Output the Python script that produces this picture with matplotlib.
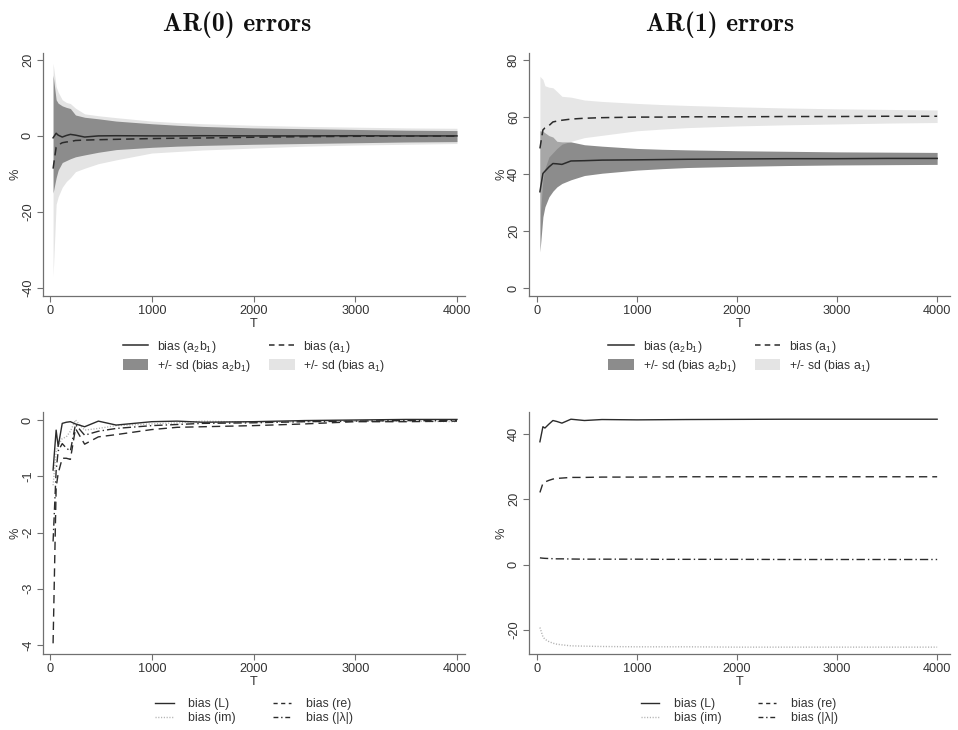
import matplotlib.pyplot as plt
from matplotlib.lines import Line2D
from matplotlib.patches import Patch

plt.rcParams['font.family'] = ['Liberation Sans', 'DejaVu Sans']
plt.rcParams['mathtext.fontset'] = 'custom'
plt.rcParams['mathtext.rm'] = 'Liberation Sans'
plt.rcParams['mathtext.it'] = 'Liberation Sans:italic'
plt.rcParams['lines.scale_dashes'] = False
plt.rcParams['axes.unicode_minus'] = False

# sample sizes
T = [30, 60, 80, 120, 160, 200, 250, 340, 475, 650, 1000, 1250, 1500, 2000, 2500, 3000, 3500, 4000]

# AR(0): bias of a2b1 and a1 with +/- one sd bands
ar0_a2b1 = [-0.5, 0.7, 0.2, -0.3, 0.1, 0.4, 0.2, -0.3, 0.0, 0.05, 0.0, 0.0, 0.05, 0.0, 0.0, 0.05, 0.0, 0.0]
ar0_a2b1_hi = [16.0, 9.5, 8.6, 7.9, 7.5, 7.2, 5.5, 4.9, 4.5, 3.9, 3.2, 2.8, 2.5, 2.1, 1.9, 1.7, 1.5, 1.4]
ar0_a2b1_lo = [-15.0, -11.0, -9.0, -7.0, -6.5, -6.0, -5.5, -5.0, -4.3, -3.6, -3.0, -2.7, -2.5, -2.2, -2.0, -1.8, -1.6, -1.5]
ar0_a1 = [-8.6, -3.0, -2.4, -1.8, -1.6, -1.5, -1.2, -1.1, -1.0, -0.9, -0.7, -0.6, -0.55, -0.35, -0.2, -0.1, -0.05, -0.05]
ar0_a1_hi = [19.1, 13.0, 11.5, 9.5, 8.8, 8.5, 7.3, 5.8, 5.3, 4.8, 3.9, 3.5, 3.2, 2.8, 2.5, 2.3, 2.1, 2.0]
ar0_a1_lo = [-37.0, -18.0, -16.0, -13.5, -12.0, -11.0, -9.4, -8.5, -7.3, -6.3, -4.5, -4.1, -3.7, -3.2, -2.7, -2.4, -2.2, -2.0]

# AR(1): same quantities
ar1_a2b1 = [33.8, 40.2, 41.0, 42.5, 43.7, 43.6, 43.4, 44.6, 44.7, 44.9, 45.0, 45.1, 45.2, 45.3, 45.4, 45.4, 45.5, 45.5]
ar1_a2b1_hi = [55.2, 55.0, 54.5, 53.5, 53.0, 51.5, 51.3, 51.3, 50.3, 49.8, 49.0, 48.7, 48.5, 48.2, 48.0, 47.8, 47.7, 47.6]
ar1_a2b1_lo = [12.7, 25.0, 28.5, 32.0, 34.0, 35.5, 36.7, 38.0, 39.5, 40.3, 41.4, 41.9, 42.3, 42.7, 43.0, 43.2, 43.3, 43.4]
ar1_a1 = [49.0, 55.5, 56.2, 57.0, 58.3, 58.6, 58.9, 59.3, 59.6, 59.8, 60.0, 60.0, 60.1, 60.1, 60.2, 60.2, 60.3, 60.3]
ar1_a1_hi = [74.3, 73.2, 71.0, 70.5, 70.3, 69.0, 67.3, 67.0, 66.0, 65.5, 64.8, 64.4, 64.1, 63.6, 63.2, 62.9, 62.7, 62.5]
ar1_a1_lo = [24.0, 38.0, 42.0, 46.0, 47.5, 49.0, 50.5, 51.5, 52.8, 53.6, 55.2, 55.8, 56.3, 56.9, 57.3, 57.6, 57.9, 58.1]

# eigenvalue biases
ar0_L = [-0.89, -0.18, -0.47, -0.06, -0.04, -0.03, -0.07, -0.12, -0.02, -0.09, -0.03, -0.02, -0.04, -0.03, -0.01, 0.0, 0.01, 0.01]
ar0_re = [-3.97, -1.2, -0.95, -0.68, -0.68, -0.7, -0.15, -0.43, -0.3, -0.26, -0.17, -0.13, -0.12, -0.1, -0.07, -0.03, -0.03, -0.02]
ar0_im = [-1.16, -0.57, -0.45, -0.33, -0.3, -0.2, 0.0, -0.18, -0.15, -0.1, -0.07, -0.05, -0.02, -0.04, -0.03, -0.02, -0.02, -0.03]
ar0_lam = [-2.16, -0.9, -0.55, -0.42, -0.5, -0.55, -0.08, -0.27, -0.2, -0.15, -0.1, -0.08, -0.06, -0.05, -0.03, -0.02, -0.01, -0.01]

ar1_L = [37.6, 42.2, 41.8, 43.0, 44.1, 43.8, 43.3, 44.5, 44.1, 44.4, 44.3, 44.35, 44.4, 44.45, 44.5, 44.5, 44.5, 44.5]
ar1_re = [22.1, 24.9, 25.3, 25.8, 26.2, 26.4, 26.5, 26.7, 26.7, 26.8, 26.8, 26.85, 26.9, 26.9, 26.9, 26.9, 26.9, 26.9]
ar1_im = [-19.2, -22.0, -22.8, -23.5, -24.0, -24.3, -24.5, -24.8, -24.9, -25.0, -25.1, -25.1, -25.1, -25.2, -25.2, -25.2, -25.2, -25.2]
ar1_lam = [2.1, 2.0, 1.95, 1.9, 1.85, 1.8, 1.8, 1.75, 1.7, 1.7, 1.7, 1.65, 1.65, 1.65, 1.6, 1.6, 1.6, 1.6]

INK = '#2b2b2b'
AXC = '#707070'
TXT = '#333333'
DARK = '#8c8c8c'
LIGHT = '#e4e4e4'
DASH = (0, (6, 3.6))
DASHDOT = (0, (6, 2.2, 1, 2.2))
DOT = (0, (0.8, 1.2))

fig = plt.figure(figsize=(9.58, 7.3), dpi=100)


def frame(rect, xlim, ylim, yticks):
    ax = fig.add_axes(rect)
    ax.spines['top'].set_visible(False)
    ax.spines['right'].set_visible(False)
    for s in ['left', 'bottom']:
        ax.spines[s].set_color(AXC)
        ax.spines[s].set_linewidth(0.9)
    ax.set_xlim(xlim)
    ax.set_ylim(ylim)
    ax.set_xticks([0, 1000, 2000, 3000, 4000])
    ax.set_yticks(yticks)
    ax.tick_params(direction='out', length=4, width=0.8, color=AXC,
                   labelsize=9.2, labelcolor=TXT, pad=2.5)
    ax.tick_params(axis='y', labelrotation=90)
    plt.setp(ax.get_yticklabels(), va='center')
    ax.set_xlabel('T', fontsize=9.2, color=TXT)
    ax.xaxis.set_label_coords(0.5, -0.092)
    ax.set_ylabel('%', fontsize=9.2, color=TXT)
    ax.yaxis.set_label_coords(-0.05, 0.5)
    return ax


def band_panel(ax, m1, lo1, hi1, m2, lo2, hi2, light_on_top):
    if light_on_top:
        ax.fill_between(T, lo1, hi1, color=DARK, lw=0, zorder=1)
        ax.fill_between(T, lo2, hi2, color='#c8c8c8', alpha=0.45, lw=0, zorder=2)
    else:
        ax.fill_between(T, lo2, hi2, color=LIGHT, lw=0, zorder=1)
        ax.fill_between(T, lo1, hi1, color=DARK, lw=0, zorder=2)
    ax.plot(T, m1, color=INK, lw=1.1, zorder=3)
    ax.plot(T, m2, color=INK, lw=1.1, linestyle=DASH, zorder=3)
    handles = [Line2D([], [], color=INK, lw=1.1),
               Patch(facecolor=DARK, edgecolor='none'),
               Line2D([], [], color=INK, lw=1.1, linestyle=(0, (4, 3))),
               Patch(facecolor=LIGHT, edgecolor='none')]
    labels = ['bias (a$_2$b$_1$)', '+/- sd (bias a$_2$b$_1$)',
              'bias (a$_1$)', '+/- sd (bias a$_1$)']
    leg = ax.legend(handles, labels, loc='center', bbox_to_anchor=(0.5, -0.248),
                    ncol=2, frameon=False, fontsize=8.8, handlelength=2.1,
                    handleheight=1.0, handletextpad=0.7, columnspacing=1.5,
                    labelspacing=0.2)
    for t in leg.get_texts():
        t.set_color(TXT)


def eig_panel(ax, L, re, im, lam):
    ax.plot(T, L, color=INK, lw=1.0, zorder=3)
    ax.plot(T, re, color=INK, lw=1.0, linestyle=DASH, zorder=3)
    ax.plot(T, im, color='#b0b0b0', lw=1.0, linestyle=DOT, zorder=2)
    ax.plot(T, lam, color=INK, lw=1.0, linestyle=DASHDOT, zorder=3)
    handles = [Line2D([], [], color=INK, lw=1.0),
               Line2D([], [], color='#b0b0b0', lw=1.0, linestyle=DOT),
               Line2D([], [], color=INK, lw=1.0, linestyle=(0, (3, 2.5))),
               Line2D([], [], color=INK, lw=1.0, linestyle=(0, (3.5, 2, 1, 2)))]
    labels = ['bias (L)', 'bias (im)', 'bias (re)', 'bias (|λ|)']
    leg = ax.legend(handles, labels, loc='center', bbox_to_anchor=(0.5, -0.235),
                    ncol=2, frameon=False, fontsize=8.8, handlelength=1.5,
                    handletextpad=1.2, columnspacing=3.0, labelspacing=0.15)
    for t in leg.get_texts():
        t.set_color(TXT)


left_x = (-69, 4079)
right_x = (-79, 4128)
top_y, bot_y = 0.5945, 0.1041
h_top, h_bot = 0.3329, 0.3315

ax1 = frame([0.0449, top_y, 0.4405, h_top], left_x, (-42.1, 21.8), [-40, -20, 0, 20])
band_panel(ax1, ar0_a2b1, ar0_a2b1_lo, ar0_a2b1_hi, ar0_a1, ar0_a1_lo, ar0_a1_hi, False)

ax2 = frame([0.5522, top_y, 0.4394, h_top], right_x, (-2.8, 82.5), [0, 20, 40, 60, 80])
band_panel(ax2, ar1_a2b1, ar1_a2b1_lo, ar1_a2b1_hi, ar1_a1, ar1_a1_lo, ar1_a1_hi, True)

ax3 = frame([0.0449, bot_y, 0.4405, h_bot], left_x, (-4.16, 0.142), [-4, -3, -2, -1, 0])
eig_panel(ax3, ar0_L, ar0_re, ar0_im, ar0_lam)

ax4 = frame([0.5522, bot_y, 0.4394, h_bot], right_x, (-27.3, 46.7), [-20, 0, 20, 40])
eig_panel(ax4, ar1_L, ar1_re, ar1_im, ar1_lam)

fig.text(237 / 958, 1 - 25 / 730, 'AR(0) errors', family='cmb10', fontsize=18.5,
         ha='center', va='center', color='#111111')
fig.text(720 / 958, 1 - 25 / 730, 'AR(1) errors', family='cmb10', fontsize=18.5,
         ha='center', va='center', color='#111111')

fig.savefig('out.png', dpi=100)
